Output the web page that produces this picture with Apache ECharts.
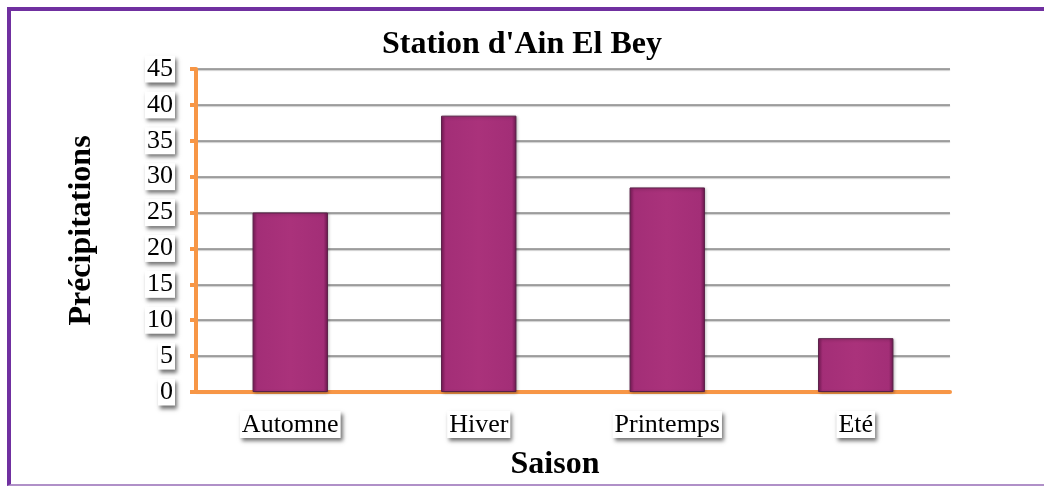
<!DOCTYPE html>
<html>
<head>
<meta charset="utf-8">
<script src="https://cdn.jsdelivr.net/npm/echarts@6/dist/echarts.min.js"></script>
<style>
	html, body { margin: 0; padding: 0; background: #fff; overflow: hidden; }
	#frame {
		position: absolute; left: 7px; top: 7px; width: 1100px; height: 479px;
		border-top: 4px solid #7030a0; border-left: 4px solid #7030a0;
		border-bottom: 2px solid #b090c8; box-sizing: border-box;
	}
	#main { position: absolute; left: 0; top: 0; width: 1044px; height: 486px; }
</style>
</head>
<body>
<div id="frame"></div>
<div id="main"></div>
<script>
var saisons = ['Automne', 'Hiver', 'Printemps', 'Eté'];
var precipitations = [25, 38.5, 28.5, 7.5];
var yTicks = [0, 5, 10, 15, 20, 25, 30, 35, 40, 45];

var orange = '#f79646';
var serif = '"Liberation Serif", "Times New Roman", serif';

var labelBox = {
	fontFamily: serif,
	fontSize: 26,
	color: '#000',
	backgroundColor: '#fff',
	padding: [1, 2, 0, 2],
	shadowColor: 'rgba(0,0,0,0.55)',
	shadowBlur: 4,
	shadowOffsetX: 2,
	shadowOffsetY: 3
};

var myChart = echarts.init(document.getElementById('main'));
myChart.setOption({
	animation: false,
	title: {
		text: "Station d'Ain El Bey",
		left: 'center',
		top: 24,
		textStyle: { fontFamily: serif, fontSize: 32, fontWeight: 'bold', color: '#000' }
	},
	grid: { left: 196, right: 94, top: 69, bottom: 94 },
	xAxis: {
		type: 'category',
		data: saisons,
		name: 'Saison',
		nameLocation: 'middle',
		nameGap: 57,
		nameTextStyle: { fontFamily: serif, fontSize: 32, fontWeight: 'bold', color: '#000', padding: [0, 36, 0, 0] },
		axisLine: { lineStyle: { color: orange, width: 4 } },
		axisTick: { length: 6, lineStyle: { color: orange, width: 4 } },
		axisLabel: Object.assign({ margin: 19 }, labelBox)
	},
	yAxis: {
		type: 'value',
		min: yTicks[0],
		max: yTicks[yTicks.length - 1],
		interval: 5,
		name: 'Précipitations',
		nameLocation: 'middle',
		nameGap: 98,
		nameRotate: 90,
		nameTextStyle: { fontFamily: serif, fontSize: 32, fontWeight: 'bold', color: '#000' },
		axisLine: { show: true, lineStyle: { color: orange, width: 4 } },
		axisTick: { show: true, length: 6, lineStyle: { color: orange, width: 4 } },
		axisLabel: Object.assign({ margin: 21 }, labelBox),
		splitLine: {
			lineStyle: { color: '#888', width: 1.5, shadowColor: 'rgba(0,0,0,0.25)', shadowOffsetY: 1, shadowBlur: 1 }
		}
	},
	series: [{
		type: 'bar',
		data: precipitations,
		barWidth: '40%',
		itemStyle: {
			color: {
				type: 'linear', x: 0, y: 0, x2: 1, y2: 0,
				colorStops: [
					{ offset: 0, color: '#7e1c5c' },
					{ offset: 0.06, color: '#a32e77' },
					{ offset: 0.5, color: '#aa327b' },
					{ offset: 0.94, color: '#a32e77' },
					{ offset: 1, color: '#6e1850' }
				]
			},
			borderColor: '#5a2048',
			borderWidth: 1,
			shadowColor: 'rgba(0,0,0,0.3)',
			shadowBlur: 3,
			shadowOffsetX: 1,
			shadowOffsetY: 1
		}
	}]
});
</script>
</body>
</html>
